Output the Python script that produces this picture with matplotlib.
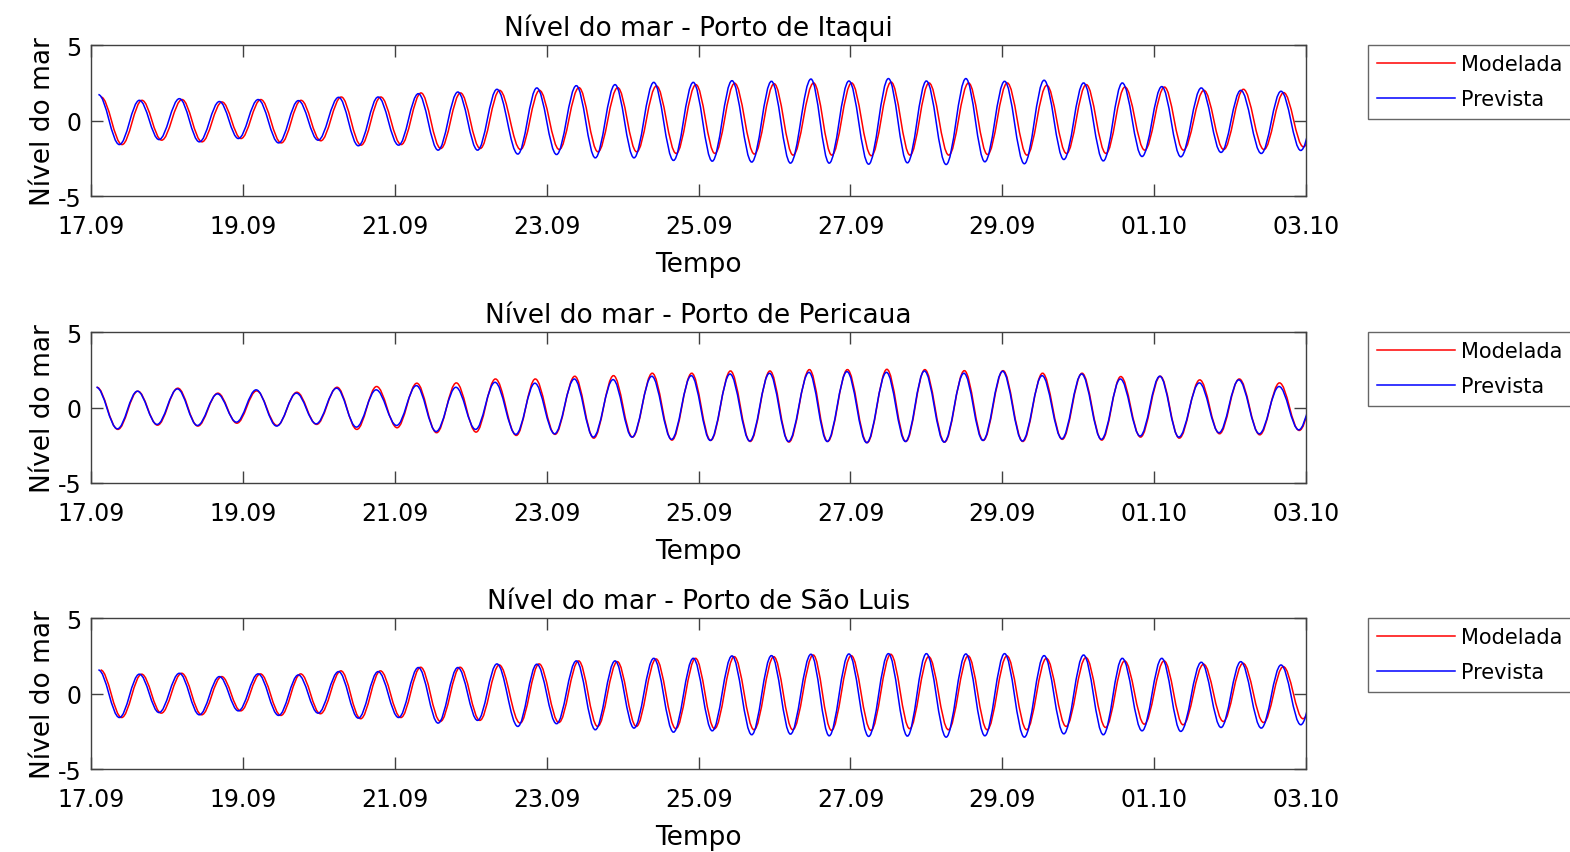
import matplotlib
matplotlib.use("Agg")
import matplotlib.pyplot as plt
from matplotlib.path import Path
from matplotlib.patches import PathPatch
from matplotlib.lines import Line2D

# dias desde 17.09 00:00 para cada preia-mar / baixa-mar
t_extremos = [
    0.096, 0.373, 0.636, 0.895, 1.163, 1.426, 1.690, 1.940, 2.200, 2.470,
    2.730, 2.990, 3.260, 3.520, 3.780, 4.050, 4.310, 4.570, 4.830, 5.090,
    5.345, 5.620, 5.870, 6.130, 6.390, 6.640, 6.900, 7.150, 7.410, 7.670,
    7.930, 8.180, 8.440, 8.700, 8.960, 9.210, 9.480, 9.720, 9.980, 10.240,
    10.500, 10.750, 11.000, 11.260, 11.520, 11.770, 12.030, 12.290, 12.550, 12.810,
    13.070, 13.330, 13.580, 13.840, 14.100, 14.350, 14.620, 14.880, 15.140, 15.410,
    15.670, 15.930, 16.190,
]

itaqui_prev = [
    1.72, -1.59, 1.34, -1.26, 1.45, -1.41, 1.26, -1.19, 1.39, -1.48,
    1.32, -1.30, 1.54, -1.67, 1.56, -1.63, 1.78, -1.96, 1.89, -1.96,
    2.07, -2.22, 2.16, -2.25, 2.31, -2.47, 2.38, -2.47, 2.53, -2.64,
    2.53, -2.69, 2.64, -2.75, 2.60, -2.82, 2.75, -2.82, 2.62, -2.89,
    2.78, -2.80, 2.62, -2.91, 2.78, -2.73, 2.60, -2.86, 2.67, -2.58,
    2.49, -2.67, 2.49, -2.38, 2.25, -2.40, 2.16, -2.11, 2.00, -2.18,
    1.94, -1.98, 1.85,
]
itaqui_mod = [
    1.56, -1.59, 1.34, -1.30, 1.39, -1.41, 1.23, -1.19, 1.39, -1.48,
    1.34, -1.34, 1.56, -1.63, 1.56, -1.59, 1.83, -1.85, 1.83, -1.85,
    2.00, -1.92, 2.00, -1.92, 2.18, -2.07, 2.18, -2.07, 2.29, -2.18,
    2.38, -2.18, 2.47, -2.22, 2.44, -2.29, 2.49, -2.29, 2.49, -2.33,
    2.55, -2.29, 2.49, -2.29, 2.49, -2.25, 2.49, -2.29, 2.33, -2.18,
    2.38, -2.18, 2.22, -1.96, 2.22, -1.96, 2.00, -1.92, 2.07, -1.92,
    1.85, -1.74, 1.75,
]
pericaua_prev = [
    1.34, -1.41, 1.08, -1.12, 1.23, -1.19, 0.90, -0.97, 1.17, -1.23,
    0.95, -1.08, 1.28, -1.30, 1.17, -1.19, 1.45, -1.59, 1.34, -1.45,
    1.67, -1.78, 1.61, -1.74, 1.89, -1.96, 1.85, -1.96, 2.07, -2.11,
    2.11, -2.18, 2.22, -2.22, 2.27, -2.25, 2.33, -2.25, 2.38, -2.33,
    2.33, -2.25, 2.42, -2.29, 2.27, -2.18, 2.40, -2.22, 2.11, -2.07,
    2.22, -2.11, 1.89, -1.89, 2.07, -1.96, 1.63, -1.67, 1.83, -1.74,
    1.39, -1.48, 1.55,
]
pericaua_mod = [
    1.34, -1.45, 1.08, -1.17, 1.28, -1.23, 0.95, -1.04, 1.10, -1.19,
    1.01, -1.12, 1.34, -1.45, 1.39, -1.34, 1.61, -1.67, 1.63, -1.63,
    1.89, -1.85, 1.89, -1.78, 2.07, -2.03, 2.11, -1.96, 2.27, -2.16,
    2.27, -2.18, 2.42, -2.25, 2.42, -2.29, 2.51, -2.25, 2.51, -2.33,
    2.53, -2.25, 2.51, -2.29, 2.44, -2.18, 2.44, -2.25, 2.27, -2.11,
    2.27, -2.16, 2.05, -1.96, 2.07, -2.03, 1.83, -1.74, 1.89, -1.81,
    1.63, -1.52, 1.60,
]
saoluis_prev = [
    1.56, -1.59, 1.28, -1.26, 1.34, -1.41, 1.12, -1.15, 1.30, -1.45,
    1.23, -1.30, 1.45, -1.63, 1.45, -1.59, 1.72, -1.96, 1.72, -1.78,
    1.96, -2.18, 1.94, -2.00, 2.16, -2.40, 2.16, -2.29, 2.33, -2.56,
    2.33, -2.47, 2.49, -2.73, 2.51, -2.69, 2.60, -2.80, 2.62, -2.84,
    2.64, -2.82, 2.64, -2.89, 2.62, -2.80, 2.64, -2.89, 2.51, -2.67,
    2.55, -2.73, 2.33, -2.47, 2.33, -2.51, 2.07, -2.25, 2.11, -2.29,
    1.89, -2.07, 1.85,
]
saoluis_mod = [
    1.56, -1.59, 1.28, -1.30, 1.34, -1.41, 1.12, -1.15, 1.30, -1.45,
    1.30, -1.34, 1.50, -1.67, 1.50, -1.59, 1.74, -1.85, 1.74, -1.78,
    1.89, -1.96, 1.96, -1.92, 2.16, -2.18, 2.11, -2.18, 2.29, -2.33,
    2.33, -2.33, 2.44, -2.40, 2.44, -2.40, 2.55, -2.44, 2.51, -2.44,
    2.60, -2.33, 2.44, -2.40, 2.49, -2.40, 2.49, -2.40, 2.33, -2.18,
    2.38, -2.25, 2.16, -2.03, 2.16, -2.07, 1.94, -1.85, 2.00, -1.92,
    1.78, -1.67, 1.75,
]

# defasagem (dias) de cada série em relação a t_extremos
atraso_prev = [0.0, -0.026, 0.0]
atraso_mod = [0.035, -0.02, 0.03]

portos = ["Porto de Itaqui", "Porto de Pericaua", "Porto de São Luis"]
series_prev = [itaqui_prev, pericaua_prev, saoluis_prev]
series_mod = [itaqui_mod, pericaua_mod, saoluis_mod]

tick_dias = [0, 2, 4, 6, 8, 10, 12, 14, 16]
tick_rotulos = ["17.09", "19.09", "21.09", "23.09", "25.09",
                "27.09", "29.09", "01.10", "03.10"]

K = 0.3634  # bezier com tangente horizontal nos extremos (forma ~cosseno)


def curva_mare(t, y):
    verts = [(t[0], y[0])]
    codes = [Path.MOVETO]
    for i in range(1, len(t)):
        dt = t[i] - t[i - 1]
        verts += [(t[i - 1] + K * dt, y[i - 1]), (t[i] - K * dt, y[i]), (t[i], y[i])]
        codes += [Path.CURVE4] * 3
    return Path(verts, codes)


plt.rcParams["font.family"] = ["DejaVu Sans"]
plt.rcParams["axes.unicode_minus"] = False
cinza = "#404040"

fig = plt.figure(figsize=(15.7, 8.53), dpi=100)
bottoms = [0.769, 0.4326, 0.0973]

for k in range(3):
    ax = fig.add_axes([0.058, bottoms[k], 0.7739, 0.177])
    t_p = [t + atraso_prev[k] for t in t_extremos]
    t_m = [t + atraso_mod[k] for t in t_extremos]
    ax.add_patch(PathPatch(curva_mare(t_m, series_mod[k]), fill=False,
                           edgecolor="red", lw=1.1))
    ax.add_patch(PathPatch(curva_mare(t_p, series_prev[k]), fill=False,
                           edgecolor="blue", lw=1.1))
    ax.set_xlim(0, 16)
    ax.set_ylim(-5, 5)
    ax.set_xticks(tick_dias)
    ax.set_xticklabels(tick_rotulos)
    ax.set_yticks([-5, 0, 5])
    ax.tick_params(direction="in", top=True, right=True, length=8.5,
                   width=1, color=cinza, labelsize=17)
    ax.tick_params(axis="x", pad=13)
    ax.tick_params(axis="y", pad=7)
    for s in ax.spines.values():
        s.set_color(cinza)
        s.set_linewidth(1)
    ax.set_title("Nível do mar - " + portos[k], fontsize=19, pad=7)
    ax.set_xlabel("Tempo", fontsize=19, labelpad=9)
    ax.set_ylabel("Nível do mar", fontsize=19, labelpad=1)
    handles = [Line2D([], [], color="red", lw=1.1, label="Modelada"),
               Line2D([], [], color="blue", lw=1.1, label="Prevista")]
    leg = ax.legend(handles=handles, loc="upper left", bbox_to_anchor=(1.051, 1.0),
                    borderaxespad=0, fontsize=15, handlelength=3.7,
                    handletextpad=0.3, fancybox=False, frameon=True,
                    borderpad=0.45, labelspacing=0.72)
    leg.get_frame().set_edgecolor(cinza)
    leg.get_frame().set_linewidth(1)

fig.savefig("out.png", dpi=100)
